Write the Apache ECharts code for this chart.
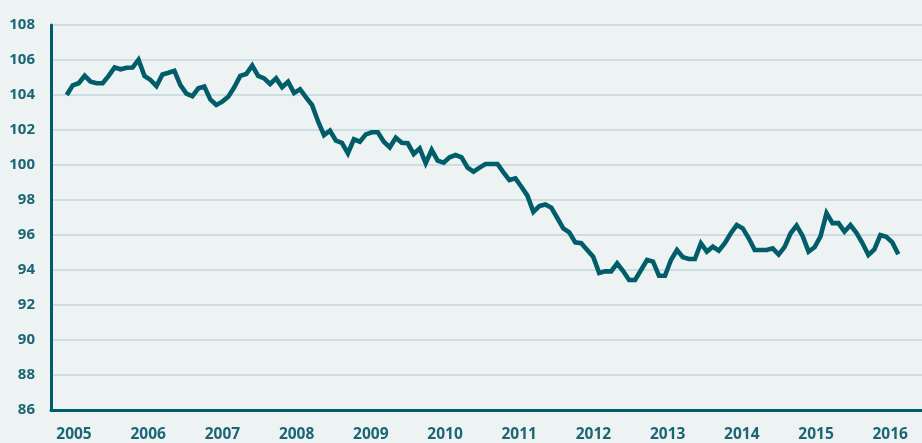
<!DOCTYPE html>
<html>
<head>
<meta charset="utf-8">
<script src="https://cdn.jsdelivr.net/npm/echarts@6/dist/echarts.min.js"></script>
<style>
  html, body { margin: 0; padding: 0; background: #edf2f3; }
  #chart { width: 922px; height: 443px; }
</style>
</head>
<body>
<div id="chart"></div>
<script>
// Index level, one reading per period
const indexValues = [
  104.0, 104.55, 104.67, 105.1, 104.76, 104.67, 104.67, 105.09, 105.58, 105.47,
  105.56, 105.57, 106.02, 105.09, 104.86, 104.51, 105.17, 105.27, 105.38, 104.57,
  104.08, 103.93, 104.38, 104.48, 103.75, 103.43, 103.62, 103.9, 104.44, 105.09,
  105.2, 105.68, 105.09, 104.95, 104.63, 104.95, 104.44, 104.76, 104.12, 104.33,
  103.86, 103.43, 102.5, 101.71, 101.96, 101.39, 101.27, 100.67, 101.47, 101.33,
  101.75, 101.87, 101.87, 101.33, 101.01, 101.56, 101.27, 101.24, 100.63, 100.95,
  100.1, 100.86, 100.25, 100.13, 100.44, 100.57, 100.44, 99.85, 99.62, 99.85,
  100.06, 100.06, 100.06, 99.58, 99.14, 99.24, 98.76, 98.25, 97.32, 97.65,
  97.74, 97.56, 96.97, 96.38, 96.15, 95.58, 95.53, 95.14, 94.76, 93.83,
  93.92, 93.92, 94.38, 93.94, 93.43, 93.43, 94.0, 94.57, 94.48, 93.67,
  93.67, 94.57, 95.14, 94.73, 94.63, 94.63, 95.53, 95.05, 95.33, 95.1,
  95.53, 96.1, 96.57, 96.38, 95.81, 95.14, 95.14, 95.14, 95.24, 94.88,
  95.32, 96.1, 96.54, 95.95, 95.05, 95.3, 95.92, 97.25, 96.68, 96.68,
  96.19, 96.57, 96.13, 95.54, 94.86, 95.18, 96.0, 95.9, 95.58, 94.9
];

// Year labels along the bottom axis
const yearLabels = [2005, 2006, 2007, 2008, 2009, 2010, 2011, 2012, 2013, 2014, 2015, 2016];

// Value axis ticks
const yMin = 86, yMax = 108, yStep = 2;

const LINE = '#005d69';
const TEXT = '#1b6675';
const GRIDLINE = '#c3d6dd';
const FONT = '"Noto Sans", "DejaVu Sans", sans-serif';

const seriesData = indexValues.map((v, i) => [i, v]);

const chart = echarts.init(document.getElementById('chart'), null, { renderer: 'canvas' });

const gridBox = { left: 51, right: 0, top: 25, bottom: 33 };

chart.setOption({
  backgroundColor: '#edf2f3',
  animation: false,
  grid: [
    Object.assign({}, gridBox),
    Object.assign({}, gridBox)
  ],
  xAxis: [
    {
      // positions of the readings
      type: 'value',
      gridIndex: 0,
      min: -2.63,
      max: 142.96,
      axisLine: { show: true, onZero: false, lineStyle: { color: LINE, width: 3 } },
      axisTick: { show: false },
      axisLabel: { show: false },
      splitLine: { show: false }
    },
    {
      // calendar years shown under the axis
      type: 'value',
      gridIndex: 1,
      min: 2004.69,
      max: 2016.428,
      axisLine: { show: false },
      axisTick: { show: false },
      splitLine: { show: false },
      axisLabel: {
        customValues: yearLabels,
        formatter: v => String(v),
        color: TEXT,
        fontFamily: FONT,
        fontWeight: 'bold',
        fontSize: 15.5,
        margin: 21
      }
    }
  ],
  yAxis: [
    {
      type: 'value',
      gridIndex: 0,
      min: yMin,
      max: yMax,
      interval: yStep,
      axisLine: { show: true, onZero: false, lineStyle: { color: LINE, width: 3 } },
      axisTick: { show: false },
      axisLabel: {
        color: TEXT,
        fontFamily: FONT,
        fontWeight: 'bold',
        fontSize: 15,
        margin: 16,
        padding: [0, 0, 10, 0]
      },
      splitLine: { show: true, lineStyle: { color: GRIDLINE, width: 1.5 } }
    },
    {
      type: 'value',
      gridIndex: 1,
      min: yMin,
      max: yMax,
      show: false
    }
  ],
  series: [
    {
      type: 'line',
      xAxisIndex: 0,
      yAxisIndex: 0,
      data: seriesData,
      showSymbol: false,
      symbol: 'none',
      lineStyle: { color: LINE, width: 4.6, join: 'miter', cap: 'butt' },
      z: 5
    }
  ]
});
</script>
</body>
</html>
